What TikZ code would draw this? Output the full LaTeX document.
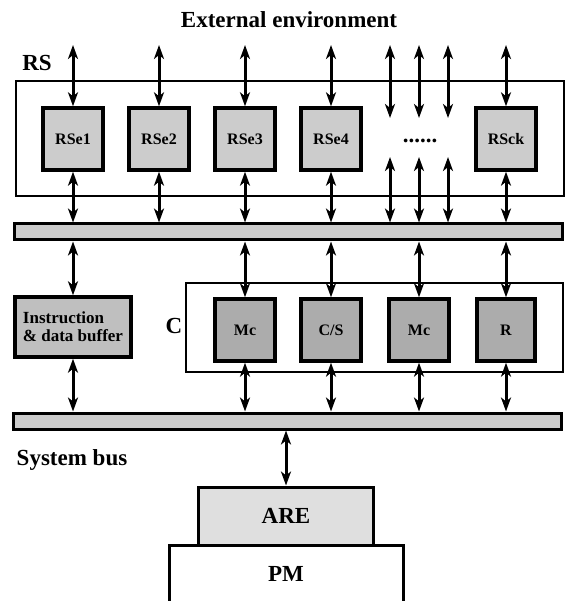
\documentclass[tikz,border=0pt]{standalone}
\usepackage{fontspec}
\setmainfont{Liberation Serif}
\usetikzlibrary{arrows.meta}
\begin{document}
\begin{tikzpicture}[x=1pt,y=-1pt,
  dbl/.style={{Stealth[length=14pt,width=10pt,inset=4pt]}-{Stealth[length=14pt,width=10pt,inset=4pt]}, line width=3pt},
  frame/.style={draw, line width=1.8pt, inner sep=0pt},
  rsebox/.style={draw, line width=3.4pt, fill=gray!40, minimum width=60pt, minimum height=62pt, inner sep=0pt, font=\fontsize{16}{18}\selectfont\bfseries},
  cbox/.style={draw, line width=3.4pt, fill=gray!65, minimum width=60pt, minimum height=62pt, inner sep=0pt, font=\fontsize{16}{18}\selectfont\bfseries},
  bus/.style={draw, line width=3pt, fill=gray!40, inner sep=0pt, minimum width=548pt, minimum height=16pt},
  lbl/.style={inner sep=0pt, font=\fontsize{23}{26}\selectfont\bfseries}
]
\clip (0,0) rectangle (566,601);
\fill[white] (0,0) rectangle (566,601);

% labels
\node[lbl] (ext) at (289,20) {External environment};
\node[lbl] (rslbl) at (37,63) {RS};
\node[lbl] (clbl) at (174,326) {C};
\node[lbl] (sblbl) at (72,460) {System bus};

% RS subsystem
\node[frame, minimum width=548pt, minimum height=115pt] (rs) at (290,138.5) {};
\node[rsebox] (rse1) at (73,139) {RSe1};
\node[rsebox] (rse2) at (159,139) {RSe2};
\node[rsebox] (rse3) at (245,139) {RSe3};
\node[rsebox] (rse4) at (331,139) {RSe4};
\node[rsebox] (rsck) at (506,139) {RSck};
\node[lbl] (dots) at (420,141) {......};

% buses
\node[bus] (bus1) at (288,232) {};
\node[bus] (bus2) at (287,421) {};

% buffer and C
\node[draw, line width=3.4pt, fill=gray!50, minimum width=116pt, minimum height=60pt, inner sep=0pt,
      align=left, font=\fontsize{17}{18}\selectfont\bfseries] (buf) at (73,327) {Instruction\\\& data buffer};
\node[frame, minimum width=377pt, minimum height=89pt] (c) at (374.5,327.5) {};
\node[cbox] (mc1) at (245,330) {Mc};
\node[cbox] (cs) at (331,330) {C/S};
\node[cbox] (mc2) at (419,330) {Mc};
\node[cbox, minimum width=58pt] (r) at (506,330) {R};

% ARE and PM
\node[draw, line width=3pt, fill=white, minimum width=234pt, minimum height=74pt, inner sep=0pt] (pm) at (286,582) {};
\node[lbl] (pmlbl) at (286,574) {PM};
\node[draw, line width=3pt, fill=gray!25, minimum width=175pt, minimum height=58pt, inner sep=0pt, font=\fontsize{23}{26}\selectfont\bfseries] (are) at (286,516) {ARE};

% free ends of the external arrows
\coordinate (t1) at (73,45);
\coordinate (t2) at (159,45);
\coordinate (t3) at (245,45);
\coordinate (t4) at (331,45);
\coordinate (t5) at (390,45);
\coordinate (t6) at (419,45);
\coordinate (t7) at (448,45);
\coordinate (t8) at (506,45);
\coordinate (u5) at (390,118);
\coordinate (u6) at (419,118);
\coordinate (u7) at (448,118);
\coordinate (d5) at (390,157);
\coordinate (d6) at (419,157);
\coordinate (d7) at (448,157);

% external arrows
\draw[dbl] (t1) -- (rse1.north);
\draw[dbl] (t2) -- (rse2.north);
\draw[dbl] (t3) -- (rse3.north);
\draw[dbl] (t4) -- (rse4.north);
\draw[dbl] (t5) -- (u5);
\draw[dbl] (t6) -- (u6);
\draw[dbl] (t7) -- (u7);
\draw[dbl] (t8) -- (rsck.north);

% RS elements to bus 1
\draw[dbl] (rse1.south) -- (rse1.south |- bus1.north);
\draw[dbl] (rse2.south) -- (rse2.south |- bus1.north);
\draw[dbl] (rse3.south) -- (rse3.south |- bus1.north);
\draw[dbl] (rse4.south) -- (rse4.south |- bus1.north);
\draw[dbl] (d5) -- (d5 |- bus1.north);
\draw[dbl] (d6) -- (d6 |- bus1.north);
\draw[dbl] (d7) -- (d7 |- bus1.north);
\draw[dbl] (rsck.south) -- (rsck.south |- bus1.north);

% bus 1 to buffer and C elements
\draw[dbl] (buf.north |- bus1.south) -- (buf.north);
\draw[dbl] (mc1.north |- bus1.south) -- (mc1.north);
\draw[dbl] (cs.north |- bus1.south) -- (cs.north);
\draw[dbl] (mc2.north |- bus1.south) -- (mc2.north);
\draw[dbl] (r.north |- bus1.south) -- (r.north);

% buffer and C elements to bus 2
\draw[dbl] (buf.south) -- (buf.south |- bus2.north);
\draw[dbl] (mc1.south) -- (mc1.south |- bus2.north);
\draw[dbl] (cs.south) -- (cs.south |- bus2.north);
\draw[dbl] (mc2.south) -- (mc2.south |- bus2.north);
\draw[dbl] (r.south) -- (r.south |- bus2.north);

% bus 2 to ARE
\draw[dbl] (are.north |- bus2.south) -- (are.north);
\end{tikzpicture}
\end{document}
